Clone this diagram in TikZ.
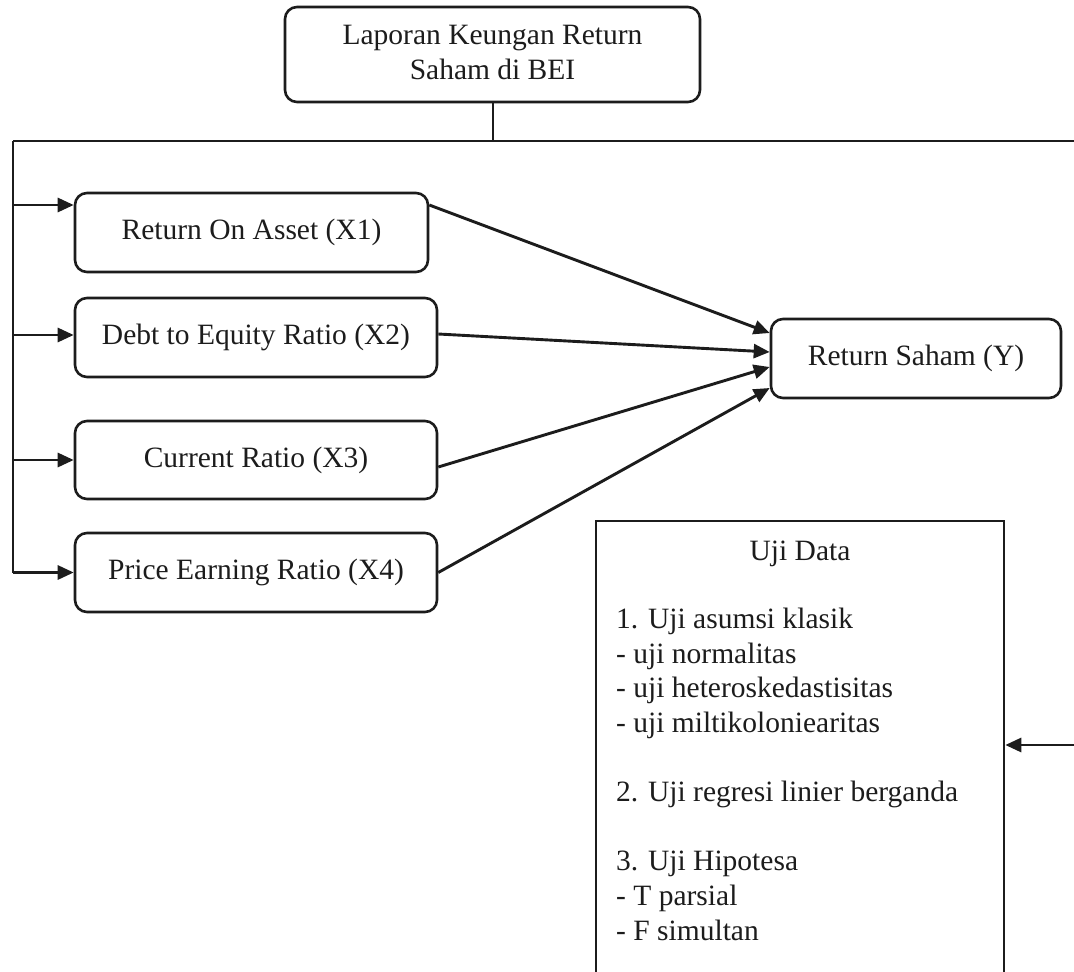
\documentclass[tikz,border=0pt]{standalone}
\usepackage{fontspec}
\setmainfont{Liberation Serif}
\usetikzlibrary{arrows.meta,calc}
\definecolor{ink}{HTML}{1C1C1C}
\newcommand{\fsz}{\fontsize{29.5}{34.6}\selectfont}
\begin{document}
\begin{tikzpicture}[x=1pt,y=-1pt,
  box/.style={draw=ink, rounded corners=12pt, line width=2.6pt, inner sep=0pt, font=\fsz, align=center, text=ink},
  conn/.style={draw=ink, line width=2.9pt},
  thin/.style={draw=ink, line width=2pt},
  arr/.style={conn, -{Triangle[length=16pt,width=14pt]}},
  txt/.style={font=\fsz, text=ink, inner sep=0pt}
]
\useasboundingbox (0,0) rectangle (1074,972);
\clip (0,0) rectangle (1074,972);
\fill[white] (0,0) rectangle (1074,972);

% nodes
\node[box, minimum width=415pt, minimum height=95pt, text depth=4pt] (top) at (492.5,54.5) {Laporan Keungan Return\\Saham di BEI};
\node[box, minimum width=353pt, minimum height=79pt] (x1) at (251.5,232.5) {Return On Asset (X1)};
\node[box, minimum width=362pt, minimum height=79pt] (x2) at (256,337.5) {Debt to Equity Ratio (X2)};
\node[box, minimum width=362pt, minimum height=78pt] (x3) at (256,460) {Current Ratio (X3)};
\node[box, minimum width=362pt, minimum height=79pt] (x4) at (256,572.5) {Price Earning Ratio (X4)};
\node[box, minimum width=290pt, minimum height=79pt] (y) at (916,358.5) {Return Saham (Y)};
\node[draw=ink, line width=2.6pt, rectangle, minimum width=408pt, minimum height=500pt, inner sep=0pt] (uji) at (800,771) {};
\node[txt, anchor=base] (ujititle) at (800,560) {Uji Data};
\node[txt, anchor=base west, align=left] (ujilist) at (616,940) {1. Uji asumsi klasik\\- uji normalitas\\- uji heteroskedastisitas\\- uji miltikoloniearitas\\[34.6pt]2. Uji regresi linier berganda\\[34.6pt]3. Uji Hipotesa\\- T parsial\\- F simultan};

% helper coordinates
\coordinate (tl) at (13,141);
\coordinate (tr) at (1074,141);
\coordinate (rin) at (1074,745);
\coordinate (a1) at ([yshift=27.5pt]x1.west);
\coordinate (a2) at ([yshift=2.5pt]x2.west);
\coordinate (a3) at (x3.west);
\coordinate (a4) at (x4.west);
\coordinate (s1) at ([yshift=27.5pt]x1.east);
\coordinate (s2) at ([yshift=3.5pt]x2.east);
\coordinate (s3) at ([yshift=-7pt]x3.east);
\coordinate (s4) at (x4.east);
\coordinate (e1) at ([yshift=25.5pt]y.west);
\coordinate (e2) at ([yshift=6.5pt]y.west);
\coordinate (e3) at ([yshift=-8.5pt]y.west);
\coordinate (e4) at ([yshift=-29.5pt]y.west);

% trunk
\draw[thin] (top.south) -- (top.south |- tl);
\draw[thin] (tr) -- (tl);
\draw[conn, line width=2.4pt] (tl) -- (tl |- a4);

% left arrows
\draw[arr] (tl |- a1) -- (a1);
\draw[arr] (tl |- a2) -- (a2);
\draw[arr] (tl |- a3) -- (a3);
\draw[arr] (tl |- a4) -- (a4);

% to Return Saham
\draw[arr] (s1) -- (e1);
\draw[arr] (s2) -- (e2);
\draw[arr] (s3) -- (e3);
\draw[arr] (s4) -- (e4);

% right arrow into Uji Data
\draw[arr] (rin) -- (rin -| uji.east);
\end{tikzpicture}
\end{document}
